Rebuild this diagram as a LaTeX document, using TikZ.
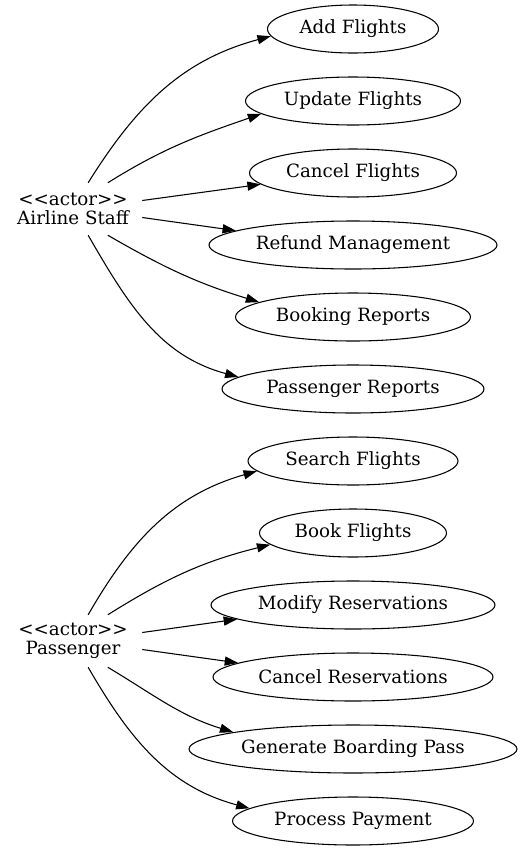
\documentclass[tikz,border=0pt]{standalone}
\usepackage{fontspec}
\setmainfont{DejaVu Serif}
\usetikzlibrary{shapes.geometric,arrows.meta}
\begin{document}
\begin{tikzpicture}[x=0.75pt,y=0.75pt,
  uc/.style={draw, ellipse, line width=0.8pt, minimum height=36pt, inner sep=0pt, font=\fontsize{13.7}{15}\selectfont},
  actorbox/.style={rectangle, minimum width=103.5pt, minimum height=39pt, inner sep=0pt, align=center, font=\fontsize{13.7}{14.5}\selectfont},
  assoc/.style={line width=0.8pt, -{Triangle[length=10pt,width=6.8pt]}}]
\useasboundingbox (0,0) rectangle (522,-851);
\node[actorbox] (staff) at (73,-209) {<{}<actor>{}>\\Airline Staff};
\node[actorbox] (pas) at (73,-641) {<{}<actor>{}>\\Passenger};
\node[uc, minimum width=128.25pt] (add) at (353,-29) {Add Flights};
\node[uc, minimum width=161.25pt] (upd) at (353,-101) {Update Flights};
\node[uc, minimum width=155.25pt] (can) at (353,-173) {Cancel Flights};
\node[uc, minimum width=216pt] (ref) at (353,-245) {Refund Management};
\node[uc, minimum width=176.25pt] (bkr) at (353,-317) {Booking Reports};
\node[uc, minimum width=196.5pt] (psr) at (353,-389) {Passenger Reports};
\node[uc, minimum width=157.5pt] (sea) at (353,-461) {Search Flights};
\node[uc, minimum width=140.25pt] (bok) at (353,-533) {Book Flights};
\node[uc, minimum width=213pt] (mod) at (353,-605) {Modify Reservations};
\node[uc, minimum width=210pt] (cnr) at (353,-677) {Cancel Reservations};
\node[uc, minimum width=246pt] (gen) at (353,-749) {Generate Boarding Pass};
\node[uc, minimum width=180.75pt] (pay) at (353,-821) {Process Payment};
\draw[assoc] (staff.60) to[out=58,in=195] (add.185);
\draw[assoc] (staff.37) to[out=32,in=199] (upd.188);
\draw[assoc] (staff.7) -- (can.187);
\draw[assoc] (staff.-7) -- (ref.173);
\draw[assoc] (staff.-37) to[out=-30,in=163] (bkr.171);
\draw[assoc] (staff.-60) to[out=-60,in=165] (psr.174);
\draw[assoc] (pas.60) to[out=60,in=196] (sea.186);
\draw[assoc] (pas.37) to[out=32,in=194] (bok.188);
\draw[assoc] (pas.7) -- (mod.187);
\draw[assoc] (pas.-7) -- (cnr.173);
\draw[assoc] (pas.-37) to[out=-31,in=163] (gen.172);
\draw[assoc] (pas.-60) to[out=-60,in=165] (pay.173);
\end{tikzpicture}
\end{document}
